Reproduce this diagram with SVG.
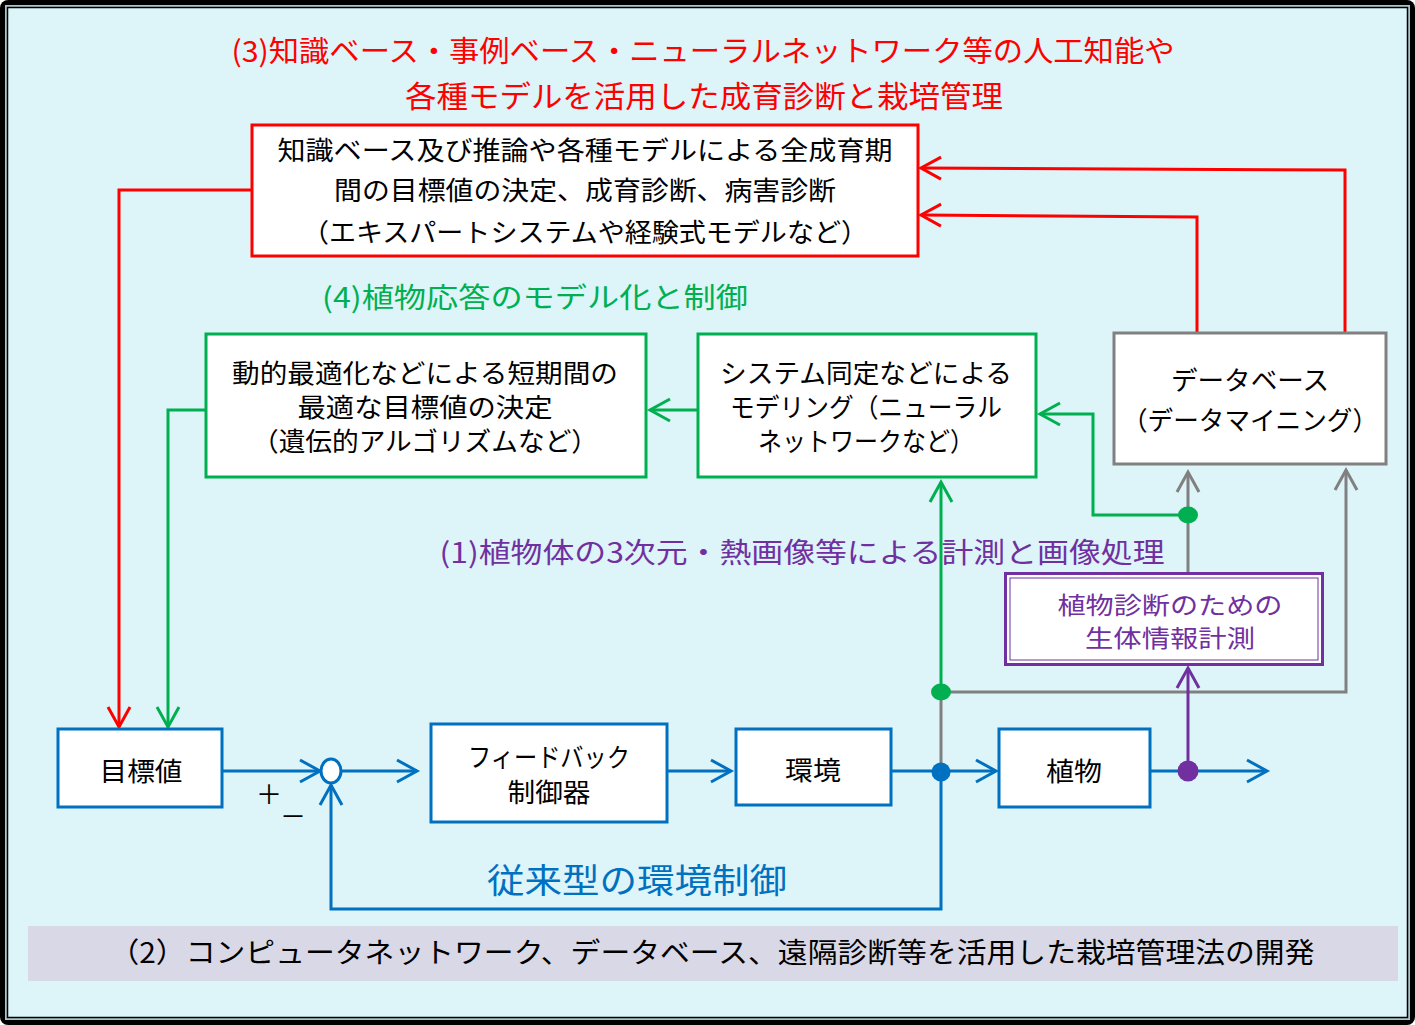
<svg xmlns="http://www.w3.org/2000/svg" width="1415" height="1025" viewBox="0 0 1415 1025">
<defs>
<style>
.t{font-family:"Noto Sans CJK JP","Noto Sans",sans-serif;text-anchor:middle}
.box{fill:#fff}
.ln{fill:none;stroke-width:3}
.b{stroke:#0070C0}.g{stroke:#00B050}.r{stroke:#FF0000}.gy{stroke:#808080}.p{stroke:#7030A0}
</style>
<marker id="ab" markerUnits="userSpaceOnUse" viewBox="-24 -14 28 28" markerWidth="28" markerHeight="28" refX="0" refY="0" orient="auto"><path d="M-20,-11 L0,0 L-20,11" fill="none" stroke="#0070C0" stroke-width="3"/></marker>
<marker id="ag" markerUnits="userSpaceOnUse" viewBox="-24 -14 28 28" markerWidth="28" markerHeight="28" refX="0" refY="0" orient="auto"><path d="M-20,-11 L0,0 L-20,11" fill="none" stroke="#00B050" stroke-width="3"/></marker>
<marker id="ar" markerUnits="userSpaceOnUse" viewBox="-24 -14 28 28" markerWidth="28" markerHeight="28" refX="0" refY="0" orient="auto"><path d="M-20,-11 L0,0 L-20,11" fill="none" stroke="#FF0000" stroke-width="3"/></marker>
<marker id="agy" markerUnits="userSpaceOnUse" viewBox="-24 -14 28 28" markerWidth="28" markerHeight="28" refX="0" refY="0" orient="auto"><path d="M-20,-11 L0,0 L-20,11" fill="none" stroke="#808080" stroke-width="3"/></marker>
<marker id="ap" markerUnits="userSpaceOnUse" viewBox="-24 -14 28 28" markerWidth="28" markerHeight="28" refX="0" refY="0" orient="auto"><path d="M-20,-11 L0,0 L-20,11" fill="none" stroke="#7030A0" stroke-width="3"/></marker>
</defs>
<!-- frame -->
<rect x="0" y="0" width="1415" height="1025" rx="8" fill="#000"/>
<rect x="5" y="5" width="1405" height="1015" fill="#A9C6C9"/>
<rect x="7.5" y="7.5" width="1400" height="1010" fill="#DDF4F9" stroke="#000" stroke-width="1.5"/>
<rect x="28" y="926" width="1370" height="55" fill="#D8D8E6"/>

<!-- labels -->
<g id="labels">
<text class="t" x="703" y="62" font-size="29" fill="#FF0000" textLength="943" lengthAdjust="spacingAndGlyphs">(3)知識ベース・事例ベース・ニューラルネットワーク等の人工知能や</text>
<text class="t" x="704" y="107" font-size="30" fill="#FF0000" textLength="598" lengthAdjust="spacingAndGlyphs">各種モデルを活用した成育診断と栽培管理</text>
<text class="t" x="535" y="308" font-size="28" fill="#00B050" textLength="426" lengthAdjust="spacingAndGlyphs">(4)植物応答のモデル化と制御</text>
<text class="t" x="802" y="563" font-size="28" fill="#7030A0" textLength="725" lengthAdjust="spacingAndGlyphs">(1)植物体の3次元・熱画像等による計測と画像処理</text>
<text class="t" x="637" y="893" font-size="34" fill="#0070C0" textLength="300" lengthAdjust="spacingAndGlyphs">従来型の環境制御</text>
<text class="t" x="712" y="963" font-size="28" fill="#000" textLength="1205" lengthAdjust="spacingAndGlyphs">（2）コンピュータネットワーク、データベース、遠隔診断等を活用した栽培管理法の開発</text>
<text class="t" x="269" y="804" font-size="26" fill="#000">＋</text>
<text class="t" x="293" y="826" font-size="26" fill="#000">－</text>
</g>

<!-- connectors -->
<g id="connectors">
<path class="ln b" d="M222,771 H320" marker-end="url(#ab)"/>
<path class="ln b" d="M342,771 H417" marker-end="url(#ab)"/>
<path class="ln b" d="M667,771 H731" marker-end="url(#ab)"/>
<path class="ln b" d="M891,771 H996" marker-end="url(#ab)"/>
<path class="ln b" d="M1150,771 H1267" marker-end="url(#ab)"/>
<path class="ln b" d="M941,772 V909 H331 V785" marker-end="url(#ab)"/>
<path class="ln gy" d="M941,772 V692"/>
<path class="ln gy" d="M941,692 H1346 V470" marker-end="url(#agy)"/>
<path class="ln gy" d="M1188,573 V472" marker-end="url(#agy)"/>
<path class="ln g" d="M941,692 V482" marker-end="url(#ag)"/>
<path class="ln g" d="M1188,515 H1093 V414 H1040" marker-end="url(#ag)"/>
<path class="ln g" d="M698,410 H650" marker-end="url(#ag)"/>
<path class="ln g" d="M206,410 H168 V727" marker-end="url(#ag)"/>
<path class="ln r" d="M252,190 H119 V727" marker-end="url(#ar)"/>
<path class="ln r" d="M1197,333 V217 L921,215" marker-end="url(#ar)"/>
<path class="ln r" d="M1345,333 V170 L921,168" marker-end="url(#ar)"/>
<path class="ln p" d="M1188,771 V668" marker-end="url(#ap)"/>
<ellipse cx="941" cy="772" rx="9.5" ry="9.5" fill="#0070C0"/>
<ellipse cx="941" cy="692" rx="10" ry="8.5" fill="#00B050"/>
<ellipse cx="1188" cy="515" rx="10" ry="8.5" fill="#00B050"/>
<circle cx="1188" cy="771" r="10.5" fill="#7030A0"/>
</g>

<!-- nodes -->
<g id="node-redbox">
<rect class="box" x="252" y="125" width="666" height="131" stroke="#FF0000" stroke-width="3"/>
<text class="t" x="585" y="160" font-size="26" textLength="615" lengthAdjust="spacingAndGlyphs">知識ベース及び推論や各種モデルによる全成育期</text>
<text class="t" x="585" y="200" font-size="26" textLength="502" lengthAdjust="spacingAndGlyphs">間の目標値の決定、成育診断、病害診断</text>
<text class="t" x="585" y="242" font-size="26" textLength="566" lengthAdjust="spacingAndGlyphs">（エキスパートシステムや経験式モデルなど）</text>
</g>
<g id="node-opt">
<rect class="box" x="206" y="334" width="440" height="143" stroke="#00B050" stroke-width="3"/>
<text class="t" x="425" y="383" font-size="26" textLength="386" lengthAdjust="spacingAndGlyphs">動的最適化などによる短期間の</text>
<text class="t" x="425" y="417" font-size="26" textLength="255" lengthAdjust="spacingAndGlyphs">最適な目標値の決定</text>
<text class="t" x="425" y="451" font-size="26" textLength="346" lengthAdjust="spacingAndGlyphs">（遺伝的アルゴリズムなど）</text>
</g>
<g id="node-model">
<rect class="box" x="698" y="334" width="338" height="143" stroke="#00B050" stroke-width="3"/>
<text class="t" x="866" y="383" font-size="26" textLength="292" lengthAdjust="spacingAndGlyphs">システム同定などによる</text>
<text class="t" x="866" y="417" font-size="26" textLength="272" lengthAdjust="spacingAndGlyphs">モデリング（ニューラル</text>
<text class="t" x="866" y="451" font-size="26" textLength="216" lengthAdjust="spacingAndGlyphs">ネットワークなど）</text>
</g>
<g id="node-db">
<rect class="box" x="1114" y="333" width="272" height="131" stroke="#808080" stroke-width="3"/>
<text class="t" x="1250" y="390" font-size="26" textLength="158" lengthAdjust="spacingAndGlyphs">データベース</text>
<text class="t" x="1250" y="430" font-size="26" textLength="256" lengthAdjust="spacingAndGlyphs">（データマイニング）</text>
</g>
<g id="node-measure">
<rect class="box" x="1005.5" y="573.5" width="317" height="91" stroke="#7030A0" stroke-width="3"/>
<rect x="1010" y="578" width="308" height="82" fill="none" stroke="#7030A0" stroke-width="1"/>
<text class="t" x="1170" y="614" font-size="24" fill="#7030A0" textLength="225" lengthAdjust="spacingAndGlyphs">植物診断のための</text>
<text class="t" x="1170" y="647" font-size="24" fill="#7030A0" textLength="170" lengthAdjust="spacingAndGlyphs">生体情報計測</text>
</g>
<g id="node-target">
<rect class="box" x="58" y="729" width="164" height="78" stroke="#0070C0" stroke-width="3"/>
<text class="t" x="141" y="781" font-size="26" textLength="83" lengthAdjust="spacingAndGlyphs">目標値</text>
</g>
<g id="node-sum">
<ellipse cx="331" cy="771" rx="10" ry="12" fill="#fff" stroke="#0070C0" stroke-width="3"/>
</g>
<g id="node-controller">
<rect class="box" x="431" y="724" width="236" height="98" stroke="#0070C0" stroke-width="3"/>
<text class="t" x="549" y="767" font-size="26" textLength="162" lengthAdjust="spacingAndGlyphs">フィードバック</text>
<text class="t" x="549" y="802" font-size="26" textLength="83" lengthAdjust="spacingAndGlyphs">制御器</text>
</g>
<g id="node-env">
<rect class="box" x="736" y="729" width="155" height="76" stroke="#0070C0" stroke-width="3"/>
<text class="t" x="813" y="780" font-size="26" textLength="56" lengthAdjust="spacingAndGlyphs">環境</text>
</g>
<g id="node-plant">
<rect class="box" x="999" y="729" width="151" height="78" stroke="#0070C0" stroke-width="3"/>
<text class="t" x="1074" y="781" font-size="26" textLength="56" lengthAdjust="spacingAndGlyphs">植物</text>
</g>
</svg>
